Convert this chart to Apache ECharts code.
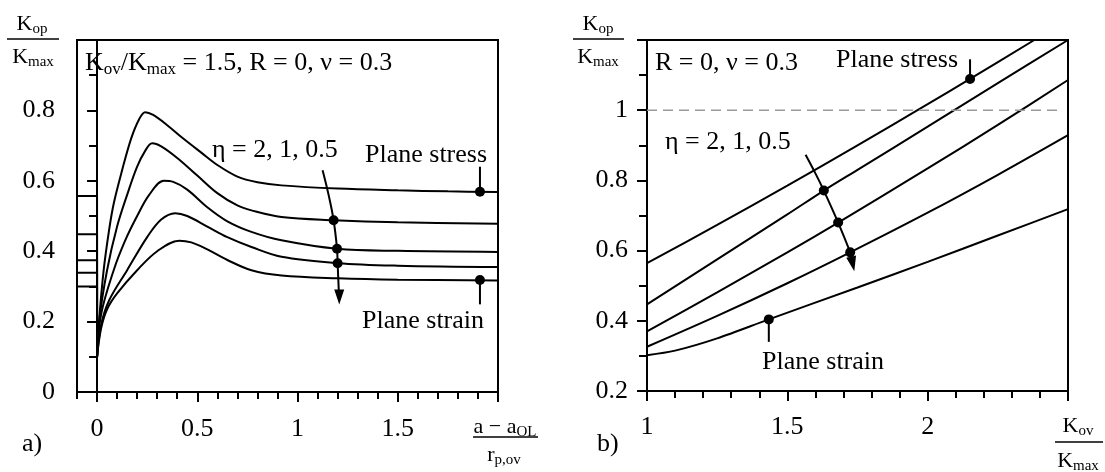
<!DOCTYPE html>
<html>
<head>
<meta charset="utf-8">
<script src="https://cdn.jsdelivr.net/npm/echarts@6.0.0/dist/echarts.min.js"></script>
<style>
html, body { margin: 0; padding: 0; background: #fff; }
#chart { width: 1105px; height: 472px; }
</style>
</head>
<body>
<div id="chart"></div>
<script>
// ---- a) Kop/Kmax against (a - aOL)/rp,ov ----
const aStartValue = 0.1
const aBaseLevels = [0.557, 0.448, 0.374, 0.339, 0.30]
const aPlaneStress = [[0, 0.1], [0.01, 0.2], [0.033, 0.346], [0.06, 0.46], [0.083, 0.535], [0.125, 0.63], [0.17, 0.72], [0.21, 0.775], [0.24, 0.795], [0.28, 0.787], [0.35, 0.758], [0.43, 0.72], [0.52, 0.68], [0.6, 0.645], [0.7, 0.612], [0.8, 0.596], [0.92, 0.587], [1.2, 0.578], [1.5, 0.573], [1.75, 0.57], [2.0, 0.568]]
const aEta2 = [[0, 0.1], [0.01, 0.2], [0.05, 0.346], [0.1, 0.47], [0.15, 0.56], [0.2, 0.64], [0.24, 0.685], [0.275, 0.707], [0.32, 0.698], [0.4, 0.665], [0.5, 0.615], [0.6, 0.565], [0.7, 0.53], [0.77, 0.516], [0.92, 0.497], [1.18, 0.488], [1.5, 0.482], [2.0, 0.478]]
const aEta1 = [[0, 0.1], [0.02, 0.22], [0.083, 0.346], [0.14, 0.43], [0.2, 0.5], [0.26, 0.56], [0.333, 0.6], [0.38, 0.597], [0.45, 0.575], [0.55, 0.525], [0.65, 0.485], [0.77, 0.455], [0.92, 0.431], [1.197, 0.407], [1.5, 0.401], [2.0, 0.398]]
const aEta05 = [[0, 0.1], [0.02, 0.19], [0.06, 0.26], [0.15, 0.346], [0.25, 0.44], [0.32, 0.49], [0.39, 0.508], [0.45, 0.5], [0.55, 0.47], [0.65, 0.44], [0.77, 0.412], [0.92, 0.384], [1.2, 0.366], [1.5, 0.359], [2.0, 0.355]]
const aPlaneStrain = [[0, 0.1], [0.02, 0.18], [0.05, 0.235], [0.1, 0.28], [0.2, 0.346], [0.3, 0.4], [0.41, 0.43], [0.47, 0.425], [0.55, 0.405], [0.65, 0.375], [0.77, 0.346], [0.92, 0.331], [1.2, 0.323], [1.5, 0.319], [2.0, 0.317]]
const aEtaArrow = [[1.125, 0.63], [1.155, 0.56], [1.18, 0.488], [1.197, 0.407], [1.2, 0.366], [1.206, 0.285]]
const aEtaHead = [1.208, 0.27]
const aDots = [[1.91, 0.569], [1.18, 0.488], [1.197, 0.407], [1.2, 0.366], [1.91, 0.318]]
const aStressPointer = [[1.91, 0.569], [1.91, 0.64]]
const aStrainPointer = [[1.91, 0.318], [1.91, 0.249]]
const aXLabels = [0, 0.5, 1, 1.5]
const aXMajor = [0, 0.5, 1, 1.5, 2]
const aYLabels = [0, 0.2, 0.4, 0.6, 0.8]
const aYMajor = [0, 0.2, 0.4, 0.6, 0.8, 1]

// ---- b) Kop/Kmax against Kov/Kmax ----
const bPlaneStress = [[1, 0.564], [1.25, 0.673], [1.5, 0.785], [1.75, 0.9], [2.0, 1.017], [2.151, 1.089], [2.38, 1.2]]
const bEta2 = [[1, 0.447], [1.25, 0.575], [1.5, 0.703], [1.63, 0.771], [1.75, 0.83], [2.0, 0.953], [2.25, 1.077], [2.5, 1.2]]
const bEta1 = [[1, 0.37], [1.25, 0.481], [1.5, 0.595], [1.681, 0.68], [2.0, 0.834], [2.25, 0.958], [2.5, 1.086]]
const bEta05 = [[1, 0.326], [1.25, 0.414], [1.5, 0.507], [1.724, 0.595], [2.0, 0.708], [2.25, 0.816], [2.5, 0.929]]
const bPlaneStrain = [[1, 0.302], [1.1, 0.315], [1.25, 0.35], [1.434, 0.404], [1.75, 0.495], [2.0, 0.568], [2.25, 0.643], [2.5, 0.718]]
const bUnity = [[1, 1], [2.48, 1]]
const bEtaArrow = [[1.565, 0.873], [1.6, 0.82], [1.63, 0.771], [1.681, 0.68], [1.724, 0.595], [1.73, 0.575]]
const bEtaHead = [1.733, 0.562]
const bDots = [[2.151, 1.089], [1.63, 0.771], [1.681, 0.68], [1.724, 0.595], [1.434, 0.404]]
const bStressPointer = [[2.151, 1.089], [2.151, 1.145]]
const bStrainPointer = [[1.434, 0.404], [1.434, 0.34]]
const bXLabels = [1, 1.5, 2]
const bXMajor = [1, 1.5, 2, 2.5]
const bYLabels = [0.2, 0.4, 0.6, 0.8, 1]
const bYMajor = [0.2, 0.4, 0.6, 0.8, 1, 1.2]

const FONT = 'Liberation Serif'
const chart = echarts.init(document.getElementById('chart'), null, { renderer: 'canvas' })

function minorAxis(grid, pos, min, max, len) {
	return {
		type: 'value', gridIndex: grid, position: pos, min: min, max: max, interval: 0.1,
		axisLine: { show: true, lineStyle: { color: '#000', width: 2 } },
		axisTick: { show: true, length: len, lineStyle: { color: '#000', width: 2 } },
		axisLabel: { show: false },
		splitLine: { show: false }
	}
}
function majorAxis(grid, pos, min, max, ticks, labels, margin) {
	return {
		type: 'value', gridIndex: grid, position: pos, min: min, max: max,
		axisLine: { show: true, lineStyle: { color: '#000', width: 2 } },
		axisTick: { show: true, customValues: ticks, length: 10, lineStyle: { color: '#000', width: 2 } },
		axisLabel: { customValues: labels, margin: margin, color: '#000', fontSize: 26, fontFamily: FONT },
		splitLine: { show: false }
	}
}
function curve(data, xi, smooth) {
	return {
		type: 'line', xAxisIndex: xi, yAxisIndex: xi, data: data, smooth: smooth,
		showSymbol: false, symbol: 'none', silent: true,
		lineStyle: { color: '#000', width: 2 }
	}
}
function dots(data, xi) {
	return { type: 'scatter', xAxisIndex: xi, yAxisIndex: xi, data: data, symbolSize: 10, silent: true, itemStyle: { color: '#000', opacity: 1 } }
}
function head(pt, xi, rot) {
	return { type: 'scatter', xAxisIndex: xi, yAxisIndex: xi, data: [pt], symbol: 'triangle', symbolSize: [10, 15], symbolRotate: rot, silent: true, itemStyle: { color: '#000', opacity: 1 } }
}

const rich = {
	m: { fontFamily: FONT, fontSize: 26, lineHeight: 30, color: '#000', verticalAlign: 'middle' },
	s: { fontFamily: FONT, fontSize: 17, lineHeight: 17, color: '#000', verticalAlign: 'bottom' },
	t: { fontFamily: FONT, fontSize: 22, lineHeight: 26, color: '#000', verticalAlign: 'middle' },
	u: { fontFamily: FONT, fontSize: 15, lineHeight: 15, color: '#000', verticalAlign: 'bottom' }
}
function txt(x, y, text, align) {
	return {
		type: 'text', x: x, y: y, silent: true,
		style: { text: text, rich: rich, align: align || 'left', textAlign: align || 'left', verticalAlign: 'middle', textVerticalAlign: 'middle', fill: '#000', font: '26px "Liberation Serif"' }
	}
}
function bar(x1, x2, y) {
	return { type: 'line', silent: true, shape: { x1: x1, y1: y, x2: x2, y2: y }, style: { stroke: '#000', lineWidth: 1.5 } }
}

const series = []
aBaseLevels.forEach(function (lv) {
	series.push(curve([[-0.1, lv], [0, lv], [0, aStartValue]], 1, false))
})
;[aPlaneStress, aEta2, aEta1, aEta05, aPlaneStrain].forEach(function (d) { series.push(curve(d, 1, 0.35)) })
series.push(curve(aEtaArrow, 1, 0.4))
series.push(curve(aStressPointer, 1, false))
series.push(curve(aStrainPointer, 1, false))
series.push(head(aEtaHead, 1, 180))
series.push(dots(aDots, 1))

;[bPlaneStress, bEta2, bEta1, bEta05, bPlaneStrain].forEach(function (d) { series.push(curve(d, 3, 0.3)) })
series.push({
	type: 'line', xAxisIndex: 3, yAxisIndex: 3, data: bUnity, showSymbol: false, symbol: 'none', silent: true,
	lineStyle: { color: '#9a9a9a', width: 1.5, type: [10, 6] }
})
series.push(curve(bEtaArrow, 3, 0.4))
series.push(curve(bStressPointer, 3, false))
series.push(curve(bStrainPointer, 3, false))
series.push(head(bEtaHead, 3, 192))
series.push(dots(bDots, 3))

chart.setOption({
	animation: false,
	backgroundColor: '#fff',
	grid: [
		{ left: 77, top: 40, width: 421, height: 352, show: true, borderColor: '#000', borderWidth: 2 },
		{ left: 647, top: 40, width: 421, height: 351, show: true, borderColor: '#000', borderWidth: 2 }
	],
	xAxis: [
		minorAxis(0, 'bottom', -0.1, 2, 7),
		majorAxis(0, 'bottom', -0.1, 2, aXMajor, aXLabels, 24),
		minorAxis(1, 'bottom', 1, 2.5, 7),
		majorAxis(1, 'bottom', 1, 2.5, bXMajor, bXLabels, 23)
	],
	yAxis: [
		minorAxis(0, 'left', 0, 1, 8),
		majorAxis(0, 'left', 0, 1, aYMajor, aYLabels, 22),
		minorAxis(1, 'left', 0.2, 1.2, 8),
		majorAxis(1, 'left', 0.2, 1.2, bYMajor, bYLabels, 19)
	],
	series: series,
	graphic: [
		// panel a texts
		txt(85, 63, '{m|K}{s|ov}{m|/K}{s|max}{m| = 1.5, R = 0, ν = 0.3}'),
		txt(212, 150, '{m|η = 2, 1, 0.5}'),
		txt(365, 155, '{m|Plane stress}'),
		txt(362, 321, '{m|Plane strain}'),
		txt(22, 444, '{m|a)}'),
		txt(32, 24, '{t|K}{u|op}', 'center'),
		bar(7, 59, 39),
		txt(33, 57, '{t|K}{u|max}', 'center'),
		txt(505, 427, '{t|a − a}{u|OL}', 'center'),
		bar(473, 538, 437),
		txt(504, 455, '{t|r}{u|p,ov}', 'center'),
		// panel b texts
		txt(655, 63, '{m|R = 0, ν = 0.3}'),
		txt(665, 142, '{m|η = 2, 1, 0.5}'),
		txt(836, 60, '{m|Plane stress}'),
		txt(762, 362, '{m|Plane strain}'),
		txt(597, 444, '{m|b)}'),
		txt(598, 24, '{t|K}{u|op}', 'center'),
		bar(573, 624, 39),
		txt(598, 57, '{t|K}{u|max}', 'center'),
		txt(1078, 426, '{t|K}{u|ov}', 'center'),
		bar(1055, 1103, 442),
		txt(1078, 461, '{t|K}{u|max}', 'center')
	]
})
</script>
</body>
</html>
